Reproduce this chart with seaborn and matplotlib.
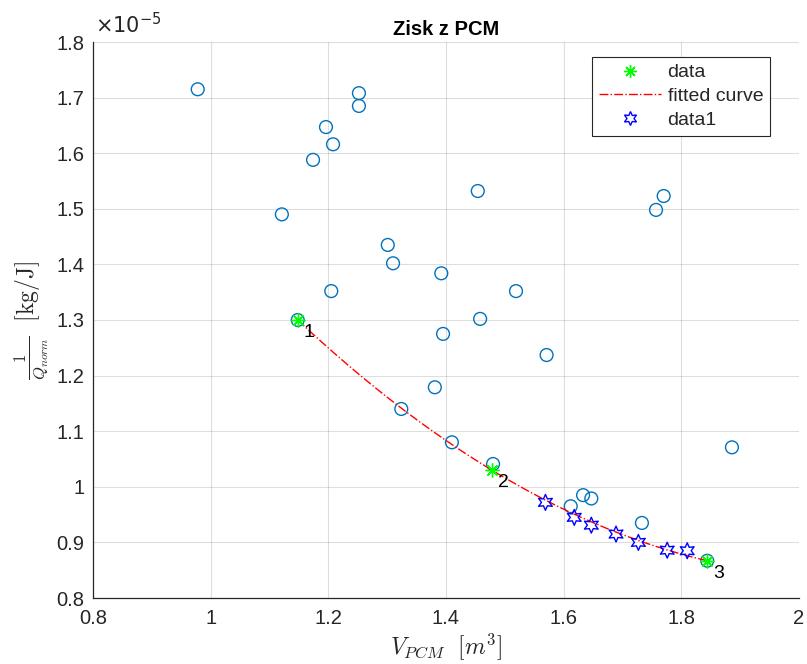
import numpy as np
import pandas as pd
import matplotlib
matplotlib.use("Agg")
import matplotlib.pyplot as plt
from matplotlib.ticker import FuncFormatter
from matplotlib.lines import Line2D
import seaborn as sns

# ---- data (y in units of 1e-5 kg/J) ----
circ_x = [0.978, 1.121, 1.174, 1.196, 1.208, 1.252, 1.252, 1.301, 1.310, 1.205,
          1.148, 1.392, 1.395, 1.454, 1.458, 1.519, 1.571, 1.324, 1.381, 1.410,
          1.480, 1.612, 1.633, 1.647, 1.733, 1.757, 1.770, 1.886, 1.844]
circ_y = [1.715, 1.490, 1.588, 1.647, 1.616, 1.708, 1.685, 1.435, 1.402, 1.352,
          1.300, 1.384, 1.275, 1.532, 1.302, 1.352, 1.237, 1.140, 1.179, 1.080,
          1.041, 0.965, 0.985, 0.979, 0.935, 1.498, 1.523, 1.071, 0.867]

data_x = [1.148, 1.478, 1.844]
data_y = [1.300, 1.030, 0.867]
data_labels = ["1", "2", "3"]

data1_x = [1.569, 1.618, 1.647, 1.689, 1.727, 1.776, 1.810]
data1_y = [0.972, 0.945, 0.931, 0.915, 0.900, 0.886, 0.885]

xticks = [0.8, 1.0, 1.2, 1.4, 1.6, 1.8, 2.0]
yticks = [0.8, 0.9, 1.0, 1.1, 1.2, 1.3, 1.4, 1.5, 1.6, 1.7, 1.8]

# fitted curve: quadratic fit through the "data" points
coef = np.polyfit(data_x, data_y, 2)
fit_x = np.linspace(min(data_x), max(data_x), 200)
fit_y = np.polyval(coef, fit_x)

sns.set_theme(style="white")
plt.rcParams['font.family'] = ['Liberation Sans', 'DejaVu Sans']
plt.rcParams['mathtext.fontset'] = 'cm'

fig = plt.figure(figsize=(8.07, 6.64), dpi=100)
ax = fig.add_axes([93/807, 1 - 598/664, (799-93)/807, (598-42)/664])

txt_col = '#262626'

sns.scatterplot(x=circ_x, y=circ_y, ax=ax, marker='o', s=85,
                facecolors='none', edgecolor='#0072BD', linewidth=1.0, legend=False)
sns.lineplot(x=fit_x, y=fit_y, ax=ax, color='#FF0000', linestyle='-.', linewidth=1.0,
             legend=False, sort=False, zorder=3)
ax.plot(data_x, data_y, linestyle='none', marker=(8, 2, 0), markersize=10,
        markeredgecolor='#00FF00', markeredgewidth=1.0, zorder=4)
sns.scatterplot(x=data1_x, y=data1_y, ax=ax, marker=(6, 1, 0), s=130,
                facecolors='none', edgecolor='#0000FF', linewidth=1.0, legend=False, zorder=5)

for x, y, lab in zip(data_x, data_y, data_labels):
    ax.annotate(lab, (x, y), xytext=(6, -4), textcoords='offset pixels',
                ha='left', va='top', fontsize=14, color='black')

ax.set_xlim(0.8, 2.0)
ax.set_ylim(0.8, 1.8)
ax.set_xticks(xticks)
ax.set_yticks(yticks)
fmt = FuncFormatter(lambda v, p: '%g' % round(v, 3))
ax.xaxis.set_major_formatter(fmt)
ax.yaxis.set_major_formatter(fmt)

ax.grid(True, color='#000000', alpha=0.13, linewidth=0.8)
ax.set_axisbelow(True)
for s in ['top', 'right']:
    ax.spines[s].set_visible(False)
for s in ['left', 'bottom']:
    ax.spines[s].set_color('#262626')
    ax.spines[s].set_linewidth(0.9)

ax.tick_params(axis='both', which='major', direction='in', length=4, width=0.8,
               color='#262626', labelsize=14.5, labelcolor=txt_col, pad=6)
ax.tick_params(axis='x', pad=8)

ax.set_title('Zisk z PCM', fontsize=14.5, fontweight='bold', color='black', pad=5)
ax.set_xlabel(r'$V_{PCM}\ \ [m^3]$', fontsize=17, color=txt_col, labelpad=2)
ax.set_ylabel(r'$\frac{1}{Q_{norm}}\ \ [\mathrm{kg/J}]$', fontsize=17, color=txt_col, labelpad=4)

ax.text(0.003, 1.008, r'$\times10^{-5}$', transform=ax.transAxes, fontsize=15,
        color=txt_col, ha='left', va='bottom', math_fontfamily='dejavusans')

handles = [
    Line2D([], [], linestyle='none', marker=(8, 2, 0), markersize=9,
           markeredgecolor='#00FF00', markeredgewidth=1.0),
    Line2D([], [], color='#FF0000', linestyle='-.', linewidth=1.0),
    Line2D([], [], linestyle='none', marker=(6, 1, 0), markersize=10,
           markerfacecolor='none', markeredgecolor='#0000FF', markeredgewidth=1.0),
]
leg = ax.legend(handles, ['data', 'fitted curve', 'data1'], loc='upper right',
                bbox_to_anchor=(1 - 29/706, 1 - 15/556), fontsize=14,
                frameon=True, fancybox=False, framealpha=1, edgecolor='#262626',
                handlelength=3.2, handletextpad=0.35, borderpad=0.35, labelspacing=0.32,
                borderaxespad=0)
leg.get_frame().set_linewidth(0.8)

fig.savefig('out.png', dpi=100)
